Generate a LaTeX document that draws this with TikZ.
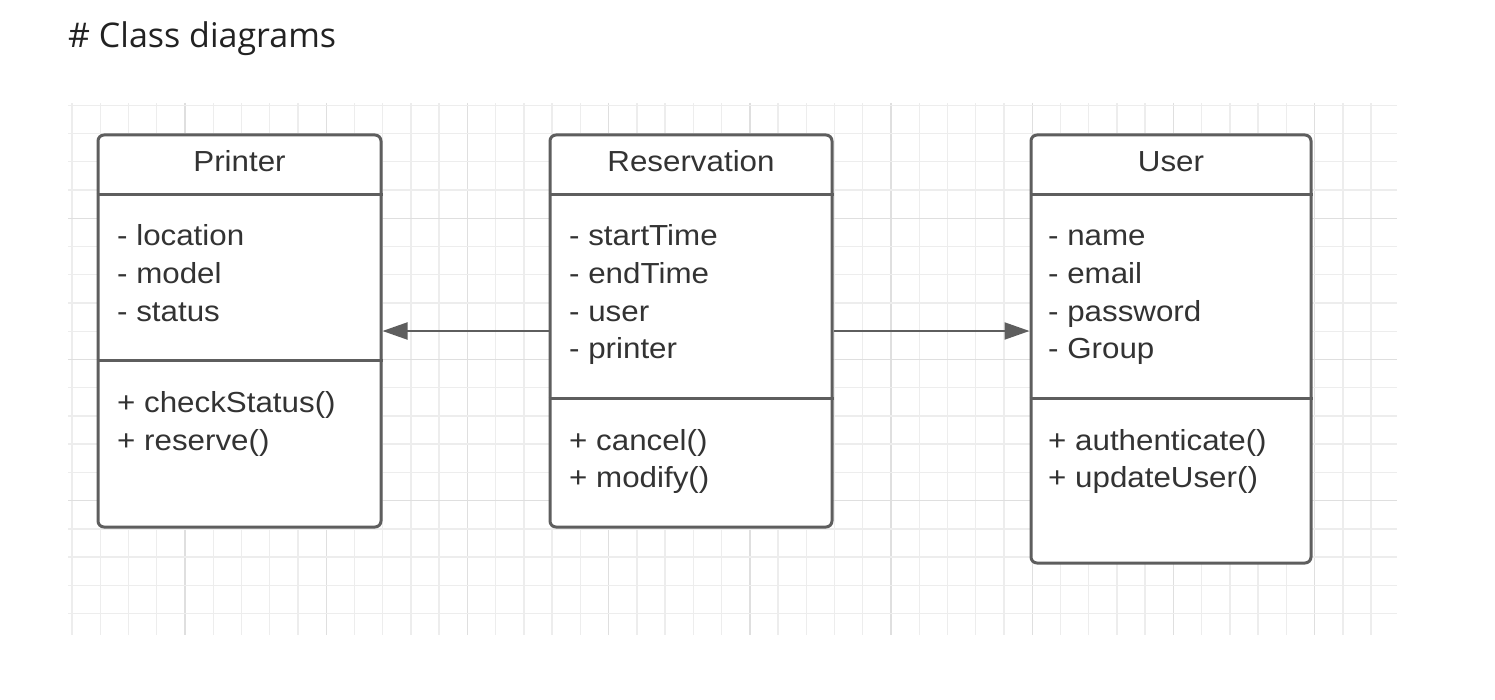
\documentclass[tikz,border=0pt]{standalone}
\usepackage{fontspec}
\setmainfont{Liberation Sans}
\newfontfamily\umlfont[FakeStretch=1.08]{Liberation Sans}
\newfontfamily\titlefont{Open Sans}
\usepackage{tikz}
\usetikzlibrary{arrows.meta}
\definecolor{boxgrey}{HTML}{5E5E5E}
\definecolor{txtgrey}{HTML}{333333}
\definecolor{gridminor}{HTML}{EDEDED}
\definecolor{gridmajor}{HTML}{DFDFDF}

\begin{document}
\begin{tikzpicture}[x=1pt,y=-1pt,
	classbox/.style={draw=boxgrey, line width=3pt, rounded corners=6pt, fill=white, inner sep=0pt},
	divider/.style={draw=boxgrey, line width=3pt},
	member/.style={anchor=base west, inner sep=0pt, text=txtgrey, align=left,
		font=\umlfont\fontsize{29}{37.6}\selectfont},
	classname/.style={anchor=base, inner sep=0pt, text=txtgrey, font=\umlfont\fontsize{29}{34}\selectfont},
	assoc/.style={draw=boxgrey, line width=2pt, -{Triangle[length=25pt,width=17pt]}}]
		\useasboundingbox (0,0) rectangle (1495,700);
		\foreach \i in {0,...,46} {
			\pgfmathtruncatemacro{\m}{mod(\i+1,5)}
			\ifnum\m=0 \def\gc{gridmajor}\else\def\gc{gridminor}\fi
			\draw [\gc, line width=1.4pt] (72.04+28.24*\i,103) -- (72.04+28.24*\i,635);
		}
		\foreach \i in {0,...,18} {
			\pgfmathtruncatemacro{\m}{mod(\i+1,5)}
			\ifnum\m=0 \def\gc{gridmajor}\else\def\gc{gridminor}\fi
			\draw [\gc, line width=1.4pt] (68,105.3+28.24*\i) -- (1397,105.3+28.24*\i);
		}
		\node [anchor=base west, inner sep=0pt, text={rgb,255:red,34;green,34;blue,34},
			font=\titlefont\fontsize{34}{40}\selectfont] (title) at (68,48) {\# Class diagrams};

		\node [classbox, minimum width=283pt, minimum height=392pt] (printer) at (239.5,331) {};
		\node [classbox, minimum width=282pt, minimum height=392pt] (reservation) at (691,331) {};
		\node [classbox, minimum width=280pt, minimum height=428pt] (user) at (1171,349) {};

		\draw [divider] (printer.west |- 0,195) -- (printer.east |- 0,195);
		\draw [divider] (printer.west |- 0,360) -- (printer.east |- 0,360);
		\draw [divider] (reservation.west |- 0,195) -- (reservation.east |- 0,195);
		\draw [divider] (reservation.west |- 0,398) -- (reservation.east |- 0,398);
		\draw [divider] (user.west |- 0,195) -- (user.east |- 0,195);
		\draw [divider] (user.west |- 0,398) -- (user.east |- 0,398);

		\node [classname] (printername) at (239.5,171.5) {Printer};
		\node [classname] (reservationname) at (691,171.5) {Reservation};
		\node [classname] (username) at (1171,171.5) {User};

		\node [member] (printerattr) at (117,321.2) {- location\\- model\\- status};
		\node [member] (printerops) at (117,450.1) {+ checkStatus()\\+ reserve()};
		\node [member] (reservationattr) at (569,358.8) {- startTime\\- endTime\\- user\\- printer};
		\node [member] (reservationops) at (569,487.6) {+ cancel()\\+ modify()};
		\node [member] (userattr) at (1048,358.8) {- name\\- email\\- password\\- Group};
		\node [member] (userops) at (1048,487.6) {+ authenticate()\\+ updateUser()};

		\draw [assoc] (reservation.west) -- (printer.east);
		\draw [assoc] (reservation.east) -- (reservation.east -| user.west);
		\end{tikzpicture}
\end{document}
